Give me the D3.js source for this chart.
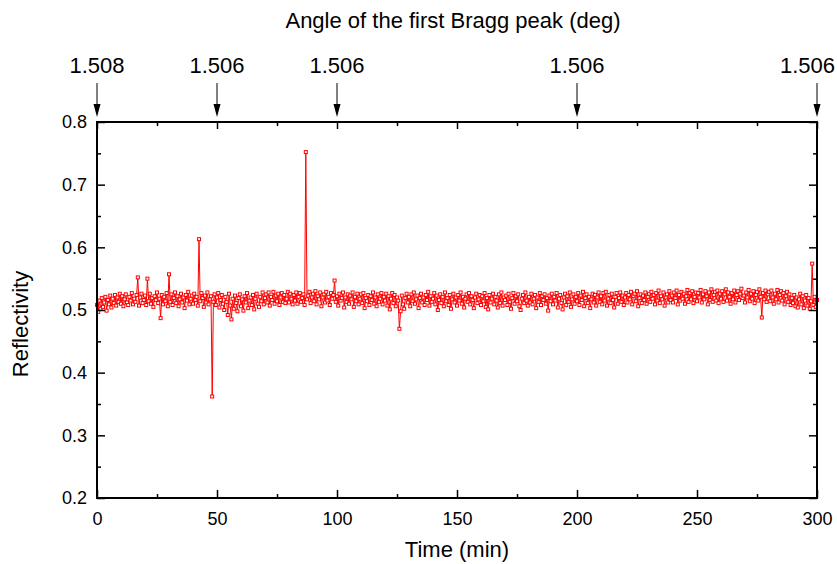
<!DOCTYPE html>
<html>
<head>
<meta charset="utf-8">
<script src="https://cdn.jsdelivr.net/npm/d3@7"></script>
<style>
  body { margin: 0; background: #fff; }
  text { font-family: "Liberation Sans", Arial, sans-serif; fill: #000; }
</style>
</head>
<body>
<div id="chart"></div>
<script>
// reflectivity sampled every half minute, t = 0 .. 300 min (one row = 10 min)
var timeStart = 0, timeStep = 0.5;
var reflectivity = [
  0.508, 0.497, 0.515, 0.502, 0.519, 0.505, 0.512, 0.521, 0.499, 0.516, 0.509, 0.523, 0.504, 0.518, 0.511, 0.524, 0.507, 0.520, 0.513, 0.526,
  0.510, 0.522, 0.506, 0.517, 0.525, 0.512, 0.508, 0.521, 0.515, 0.527, 0.509, 0.518, 0.513, 0.524, 0.552, 0.507, 0.520, 0.526, 0.511, 0.516,
  0.523, 0.508, 0.550, 0.514, 0.526, 0.510, 0.519, 0.505, 0.522, 0.516, 0.528, 0.511, 0.518, 0.487, 0.524, 0.509, 0.521, 0.514, 0.527, 0.506,
  0.557, 0.513, 0.525, 0.508, 0.519, 0.528, 0.511, 0.522, 0.506, 0.517, 0.526, 0.512, 0.520, 0.503, 0.524, 0.515, 0.529, 0.509, 0.518, 0.523,
  0.510, 0.526, 0.516, 0.521, 0.507, 0.613, 0.514, 0.527, 0.519, 0.505, 0.523, 0.512, 0.528, 0.509, 0.517, 0.522, 0.362, 0.513, 0.525, 0.508,
  0.520, 0.527, 0.504, 0.516, 0.524, 0.510, 0.500, 0.521, 0.513, 0.492, 0.526, 0.507, 0.485, 0.518, 0.502, 0.523, 0.511, 0.498, 0.519, 0.525,
  0.506, 0.517, 0.499, 0.522, 0.512, 0.527, 0.503, 0.515, 0.520, 0.508, 0.524, 0.501, 0.518, 0.526, 0.510, 0.505, 0.521, 0.514, 0.528, 0.509,
  0.519, 0.525, 0.512, 0.528, 0.507, 0.521, 0.516, 0.529, 0.510, 0.523, 0.514, 0.526, 0.508, 0.520, 0.527, 0.513, 0.524, 0.511, 0.518, 0.529,
  0.512, 0.526, 0.518, 0.509, 0.524, 0.515, 0.528, 0.510, 0.521, 0.527, 0.513, 0.519, 0.525, 0.508, 0.752, 0.517, 0.523, 0.529, 0.511, 0.520,
  0.526, 0.514, 0.530, 0.509, 0.522, 0.517, 0.528, 0.506, 0.520, 0.525, 0.512, 0.529, 0.515, 0.521, 0.508, 0.527, 0.518, 0.524, 0.547, 0.513,
  0.522, 0.507, 0.526, 0.515, 0.519, 0.528, 0.504, 0.520, 0.513, 0.525, 0.510, 0.523, 0.517, 0.528, 0.505, 0.521, 0.514, 0.526, 0.509, 0.518,
  0.525, 0.511, 0.527, 0.503, 0.519, 0.514, 0.524, 0.508, 0.522, 0.516, 0.528, 0.510, 0.520, 0.506, 0.525, 0.513, 0.518, 0.527, 0.509, 0.521,
  0.515, 0.526, 0.507, 0.522, 0.501, 0.518, 0.527, 0.511, 0.524, 0.506, 0.520, 0.515, 0.470, 0.498, 0.523, 0.509, 0.502, 0.519, 0.526, 0.512,
  0.521, 0.506, 0.525, 0.514, 0.528, 0.510, 0.517, 0.523, 0.503, 0.519, 0.526, 0.512, 0.520, 0.508, 0.524, 0.516, 0.529, 0.507, 0.522, 0.513,
  0.518, 0.527, 0.509, 0.523, 0.500, 0.516, 0.525, 0.511, 0.521, 0.506, 0.528, 0.514, 0.519, 0.508, 0.524, 0.502, 0.517, 0.526, 0.512, 0.520,
  0.507, 0.524, 0.515, 0.528, 0.510, 0.521, 0.504, 0.518, 0.525, 0.513, 0.527, 0.509, 0.522, 0.516, 0.503, 0.520, 0.526, 0.511, 0.517, 0.524,
  0.508, 0.522, 0.514, 0.527, 0.505, 0.519, 0.501, 0.524, 0.512, 0.518, 0.526, 0.509, 0.521, 0.515, 0.504, 0.525, 0.511, 0.528, 0.507, 0.520,
  0.516, 0.523, 0.508, 0.526, 0.513, 0.502, 0.519, 0.527, 0.510, 0.522, 0.514, 0.525, 0.506, 0.500, 0.518, 0.524, 0.511, 0.528, 0.515, 0.507,
  0.521, 0.512, 0.526, 0.509, 0.518, 0.524, 0.503, 0.520, 0.513, 0.527, 0.508, 0.522, 0.516, 0.525, 0.510, 0.519, 0.499, 0.523, 0.514, 0.526,
  0.509, 0.521, 0.515, 0.527, 0.504, 0.518, 0.524, 0.511, 0.501, 0.520, 0.526, 0.508, 0.522, 0.513, 0.528, 0.505, 0.517, 0.525, 0.510, 0.521,
  0.514, 0.527, 0.508, 0.523, 0.516, 0.529, 0.506, 0.519, 0.525, 0.511, 0.521, 0.503, 0.517, 0.526, 0.512, 0.524, 0.507, 0.520, 0.528, 0.513,
  0.522, 0.509, 0.527, 0.515, 0.529, 0.507, 0.518, 0.524, 0.511, 0.526, 0.516, 0.504, 0.521, 0.527, 0.510, 0.519, 0.528, 0.513, 0.523, 0.508,
  0.520, 0.527, 0.512, 0.524, 0.517, 0.529, 0.509, 0.522, 0.526, 0.514, 0.530, 0.506, 0.519, 0.525, 0.511, 0.523, 0.516, 0.528, 0.510, 0.521,
  0.526, 0.513, 0.529, 0.518, 0.524, 0.509, 0.527, 0.515, 0.531, 0.511, 0.522, 0.517, 0.528, 0.507, 0.520, 0.525, 0.512, 0.530, 0.516, 0.523,
  0.512, 0.528, 0.519, 0.531, 0.509, 0.524, 0.515, 0.529, 0.518, 0.526, 0.510, 0.522, 0.532, 0.513, 0.527, 0.517, 0.530, 0.511, 0.521, 0.528,
  0.514, 0.527, 0.520, 0.532, 0.512, 0.525, 0.517, 0.530, 0.522, 0.509, 0.528, 0.516, 0.533, 0.513, 0.524, 0.529, 0.515, 0.531, 0.511, 0.526,
  0.518, 0.530, 0.513, 0.525, 0.533, 0.515, 0.528, 0.521, 0.510, 0.527, 0.517, 0.531, 0.512, 0.524, 0.530, 0.516, 0.526, 0.534, 0.519, 0.523,
  0.512, 0.528, 0.520, 0.532, 0.514, 0.526, 0.518, 0.530, 0.511, 0.524, 0.529, 0.515, 0.533, 0.521, 0.488, 0.527, 0.517, 0.531, 0.513, 0.525,
  0.529, 0.514, 0.531, 0.520, 0.510, 0.526, 0.517, 0.532, 0.512, 0.524, 0.530, 0.515, 0.527, 0.509, 0.522, 0.529, 0.513, 0.525, 0.508, 0.519,
  0.511, 0.524, 0.506, 0.520, 0.504, 0.517, 0.526, 0.509, 0.522, 0.503, 0.515, 0.524, 0.507, 0.519, 0.502, 0.514, 0.574, 0.508, 0.521, 0.505,
  0.516
];

// top annotations: Bragg peak angle at selected times
var braggTimes = [0, 50, 100, 200, 300];
var braggLabels = ["1.508", "1.506", "1.506", "1.506", "1.506"];

var xTicks = [0, 50, 100, 150, 200, 250, 300];
var yTicks = [0.2, 0.3, 0.4, 0.5, 0.6, 0.7, 0.8];
var xMinor = [25, 75, 125, 175, 225, 275];
var yMinor = [0.25, 0.35, 0.45, 0.55, 0.65, 0.75];

var width = 837, height = 564;
var plotLeft = 97, plotRight = 817, plotTop = 122, plotBottom = 498;

var data = reflectivity.map(function (v, i) {
    return { t: timeStart + i * timeStep, r: v };
});

var x = d3.scaleLinear().domain([0, 300]).range([plotLeft, plotRight]);
var y = d3.scaleLinear().domain([0.2, 0.8]).range([plotBottom, plotTop]);

var svg = d3.select("#chart").append("svg")
    .attr("width", width)
    .attr("height", height);

// data line + hollow square markers
svg.append("clipPath").attr("id", "clip")
    .append("rect").attr("x", plotLeft - 2).attr("y", plotTop)
    .attr("width", plotRight - plotLeft + 4).attr("height", plotBottom - plotTop);

var line = d3.line()
    .x(function (d) { return x(d.t); })
    .y(function (d) { return y(d.r); });

var plot = svg.append("g").attr("clip-path", "url(#clip)");

plot.append("path")
    .datum(data)
    .attr("d", line)
    .style("fill", "none")
    .style("stroke", "#ff0000")
    .style("stroke-width", 1);

plot.selectAll("rect.pt")
    .data(data)
    .join("rect")
    .attr("class", "pt")
    .attr("x", function (d) { return x(d.t) - 1.5; })
    .attr("y", function (d) { return y(d.r) - 1.5; })
    .attr("width", 3)
    .attr("height", 3)
    .style("fill", "#fff")
    .style("stroke", "#ff0000")
    .style("stroke-width", 1);

// axes (ticks point inward)
function axisGroup(axis, translate) {
    var g = svg.append("g").attr("transform", translate).call(axis);
    g.select(".domain").remove();
    g.selectAll(".tick line").style("stroke", "#000").style("stroke-width", 1.5);
    g.selectAll(".tick text").style("font-family", "'Liberation Sans', Arial, sans-serif")
        .style("font-size", "18px").style("fill", "#000");
    return g;
}

axisGroup(d3.axisBottom(x).tickValues(xTicks).tickSizeInner(-8).tickSizeOuter(0).tickPadding(14), "translate(0," + plotBottom + ")");
axisGroup(d3.axisBottom(x).tickValues(xMinor).tickSizeInner(-4).tickSizeOuter(0).tickFormat(""), "translate(0," + plotBottom + ")");
axisGroup(d3.axisTop(x).tickValues(xTicks).tickSizeInner(-7).tickSizeOuter(0).tickFormat(""), "translate(0," + plotTop + ")");
axisGroup(d3.axisTop(x).tickValues(xMinor).tickSizeInner(-4).tickSizeOuter(0).tickFormat(""), "translate(0," + plotTop + ")");
axisGroup(d3.axisLeft(y).tickValues(yTicks).tickSizeInner(-8).tickSizeOuter(0).tickPadding(10).tickFormat(d3.format(".1f")), "translate(" + plotLeft + ",0)");
axisGroup(d3.axisLeft(y).tickValues(yMinor).tickSizeInner(-4).tickSizeOuter(0).tickFormat(""), "translate(" + plotLeft + ",0)");
axisGroup(d3.axisRight(y).tickValues(yTicks).tickSizeInner(-8).tickSizeOuter(0).tickFormat(""), "translate(" + plotRight + ",0)");
axisGroup(d3.axisRight(y).tickValues(yMinor).tickSizeInner(-4).tickSizeOuter(0).tickFormat(""), "translate(" + plotRight + ",0)");

// frame
svg.append("rect")
    .attr("x", plotLeft).attr("y", plotTop)
    .attr("width", plotRight - plotLeft).attr("height", plotBottom - plotTop)
    .style("fill", "none").style("stroke", "#000").style("stroke-width", 2);

// axis titles
svg.append("text")
    .attr("x", (plotLeft + plotRight) / 2).attr("y", 557)
    .attr("text-anchor", "middle")
    .style("font-size", "22px")
    .text("Time (min)");

svg.append("text")
    .attr("transform", "translate(28,324) rotate(-90)")
    .attr("text-anchor", "middle")
    .style("font-size", "22px")
    .text("Reflectivity");

svg.append("text")
    .attr("x", 453).attr("y", 28)
    .attr("text-anchor", "middle")
    .style("font-size", "22px")
    .text("Angle of the first Bragg peak (deg)");

// Bragg angle arrows along the top
var arrows = svg.append("g");
braggTimes.forEach(function (t, i) {
    var ax = x(t);
    arrows.append("line")
        .attr("x1", ax).attr("x2", ax)
        .attr("y1", 83).attr("y2", 106)
        .style("stroke", "#000").style("stroke-width", 1);
    arrows.append("path")
        .attr("d", "M" + (ax - 3.5) + ",104 L" + (ax + 3.5) + ",104 L" + ax + ",117 Z")
        .style("fill", "#000");
    var lbl = arrows.append("text")
        .attr("x", ax).attr("y", 73)
        .attr("text-anchor", "middle")
        .style("font-size", "22px")
        .text(braggLabels[i]);
    var w = lbl.node().getComputedTextLength();
    if (ax + w / 2 > width - 2) {
        lbl.attr("text-anchor", "end").attr("x", width - 2);
    }
});
</script>
</body>
</html>
